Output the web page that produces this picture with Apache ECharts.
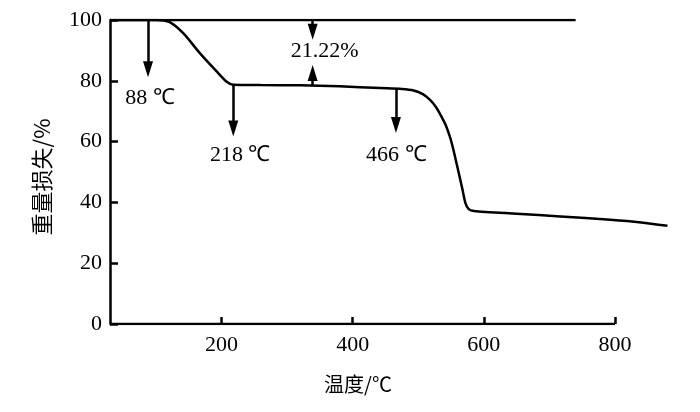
<!DOCTYPE html>
<html>
<head>
<meta charset="utf-8">
<script src="https://cdn.jsdelivr.net/npm/echarts@6/dist/echarts.min.js"></script>
<style>html,body{margin:0;padding:0;background:#fff}#c{width:700px;height:412px}</style>
</head>
<body>
<div id="c"></div>
<script>
// TG curve: [temperature (°C), weight (%)]
var tgCurve = [[30,100],[100,100],[121,99.3],[142,95.6],[167,89.1],[193,83.0],[208,79.7],[218,78.7],[260,78.6],[320,78.5],[380,78.2],[442,77.6],[475,77.3],[493,76.8],[507,75.6],[518,73.7],[527,71.4],[534,68.8],[542,65.4],[549,61.1],[554,57.0],[559,52.3],[567,44.7],[572,39.8],[577,37.8],[585,37.2],[650,36.3],[717,35.4],[793,34.3],[840,33.4],[880,32.3]];
// 100% reference line
var refLine = [[30,100],[740,100]];
// x-axis baseline (axis drawn only up to 800)
var xBase = [[30,0],[800,0]];
// arrows: [x, yFrom, yTip]
var arrows = [[88,100,81.2],[218,78.7,61.7],[466,77.4,62.8],[339,100,93.5],[339,78.6,85.2]];
// annotation labels: [x, y, text]
var notes = [[91,74.4,'88 ℃'],[228.5,55.6,'218 ℃'],[466.6,55.6,'466 ℃'],[357.5,89.6,'21.22%']];
var xTicks = [200,400,600,800];

var headLen = 16;            // px
var yUnitPx = (412 - 88 - 20) / 100; // px per % on the y axis
var headShift = headLen / 2 / yUnitPx;

var serif = '"Liberation Serif","Times New Roman",serif';
var cjk = '"Noto Sans CJK SC",sans-serif';
var chart = echarts.init(document.getElementById('c'));
chart.setOption({
  animation: false,
  backgroundColor: '#fff',
  grid: {left: 110, right: 26, top: 20, bottom: 88},
  xAxis: {
    type: 'value', min: 30, max: 890,
    name: '温度/℃', nameLocation: 'middle', nameGap: 50,
    nameTextStyle: {fontFamily: cjk, fontSize: 20, color: '#000', padding: [0, 68, 0, 0]},
    axisLine: {show: false},
    axisTick: {show: true, inside: true, length: 7, lineStyle: {width: 2.5, color: '#000'}, customValues: xTicks},
    axisLabel: {customValues: xTicks, fontFamily: serif, fontSize: 22, color: '#000', margin: 10},
    splitLine: {show: false}
  },
  yAxis: {
    type: 'value', min: 0, max: 100, interval: 20,
    name: '重量损失/%', nameLocation: 'middle', nameGap: 57, nameRotate: 90,
    nameTextStyle: {fontFamily: cjk, fontSize: 22, color: '#000', padding: [0, 10, 0, 0]},
    axisLine: {show: true, lineStyle: {color: '#000', width: 2.5}},
    axisTick: {show: true, inside: true, length: 8, lineStyle: {width: 2.5, color: '#000'}},
    axisLabel: {fontFamily: serif, fontSize: 22, color: '#000', margin: 8},
    splitLine: {show: false}
  },
  series: [
    {
      type: 'line', data: xBase, symbol: 'none', silent: true,
      lineStyle: {color: '#000', width: 2.5}
    },
    {
      type: 'line', data: tgCurve, smooth: 0.25, symbol: 'none',
      lineStyle: {color: '#000', width: 2.5}
    },
    {
      type: 'line', data: refLine, symbol: 'none',
      lineStyle: {color: '#000', width: 2.5},
      markLine: {
        silent: true, symbol: ['none', 'triangle'], symbolSize: [10, headLen],
        label: {show: false},
        lineStyle: {color: '#000', width: 2.5, type: 'solid'},
        data: arrows.map(function (a) {
          var dir = a[2] < a[1] ? 1 : -1;
          return [{coord: [a[0], a[1]]}, {coord: [a[0], a[2] + dir * headShift]}];
        })
      },
      markPoint: {
        silent: true, symbol: 'circle', symbolSize: 0,
        label: {show: true, position: 'inside', fontFamily: serif, fontSize: 22, color: '#000',
          formatter: function (p) { return p.name; }},
        data: notes.map(function (n) { return {name: n[2], coord: [n[0], n[1]]}; })
      }
    }
  ]
});
</script>
</body>
</html>
